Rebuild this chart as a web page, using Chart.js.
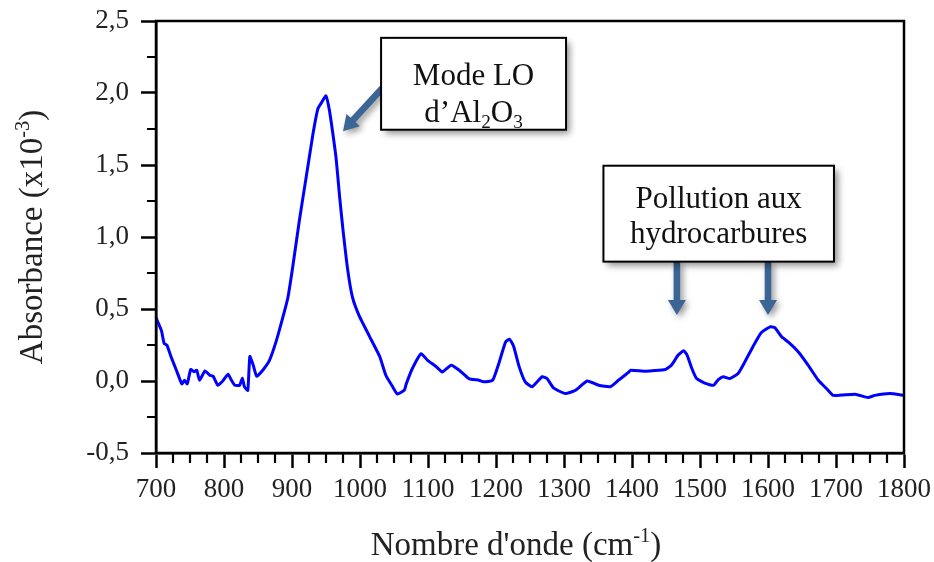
<!DOCTYPE html>
<html>
<head>
<meta charset="utf-8">
<script src="https://cdn.jsdelivr.net/npm/chart.js@4.4.1/dist/chart.umd.min.js"></script>
<style>
  html, body { margin: 0; padding: 0; background: #fff; }
  canvas { display: block; }
</style>
</head>
<body>
<canvas id="spectrum" width="934" height="562"></canvas>
<script>
// Wavenumber (cm-1) and absorbance (x10^-3)
const wavenumbers = [
  700, 708, 712, 716, 722, 730, 738, 742, 746, 751, 756, 760, 764, 772, 779, 784,
  791, 799, 806, 811, 816, 823, 827, 830, 835, 838, 843, 848, 857, 867, 877, 887,
  894, 901, 911, 921, 931, 938, 943, 950, 955, 960, 965, 970, 975, 982, 989, 999,
  1014, 1029, 1038, 1048, 1055, 1065, 1068, 1077, 1090, 1099, 1112, 1121, 1134, 1146,
  1160, 1175, 1182, 1195, 1204, 1214, 1220, 1226, 1234, 1243, 1253, 1268, 1275, 1285,
  1302, 1317, 1334, 1351, 1368, 1380, 1394, 1398, 1420, 1449, 1458, 1468, 1476, 1481,
  1488, 1495, 1508, 1520, 1527, 1534, 1544, 1556, 1566, 1578, 1590, 1603, 1610, 1620,
  1630, 1645, 1659, 1674, 1686, 1696, 1728, 1747, 1757, 1779, 1800
];
const absorbance = [
  0.44, 0.35, 0.26, 0.25, 0.17, 0.075, -0.02, 0.005, -0.02, 0.08, 0.065, 0.075, 0.005, 0.07, 0.04, 0.033,
  -0.03, 0.005, 0.047, 0.005, -0.03, -0.03, 0.02, -0.04, -0.065, 0.17, 0.11, 0.033, 0.075, 0.145, 0.28, 0.45,
  0.58, 0.79, 1.12, 1.42, 1.72, 1.89, 1.93, 1.98, 1.88, 1.72, 1.54, 1.28, 1.05, 0.77, 0.58, 0.45,
  0.31, 0.17, 0.04, -0.04, -0.09, -0.065, -0.02, 0.087, 0.19, 0.145, 0.10, 0.063, 0.11, 0.075,
  0.017, 0.005, -0.006, 0.005, 0.12, 0.27, 0.29, 0.24, 0.10, -0.006, -0.04, 0.03, 0.017, -0.05,
  -0.087, -0.064, 0.0, -0.03, -0.04, 0.005, 0.056, 0.075, 0.068, 0.08, 0.11, 0.18, 0.21, 0.18,
  0.087, 0.017, -0.017, -0.03, 0.01, 0.03, 0.017, 0.052, 0.133, 0.24, 0.335, 0.376, 0.37, 0.307,
  0.27, 0.20, 0.11, 0.005, -0.052, -0.10, -0.092, -0.115, -0.10, -0.087, -0.10
];

// Axis ranges and tick steps
const xRange = [700, 1800];
const yRange = [-0.5, 2.5];
const xMajorStep = 100, xMinorStep = 25;
const yMajorStep = 0.5, yMinorStep = 0.25;

// Annotations, anchored in data units
const labelBoxes = [
  { x0: 1031, x1: 1303, y0: 2.383, y1: 1.745, lines: [
      [{ t: 'Mode LO' }],
      [{ t: 'd\u2019Al' }, { t: '2', sub: true }, { t: 'O' }, { t: '3', sub: true }]
    ], lineOffsets: [36, 73] },
  { x0: 1358, x1: 1697, y0: 1.495, y1: 0.829, lines: [
      [{ t: 'Pollution aux' }],
      [{ t: 'hydrocarbures' }]
    ], lineOffsets: [31, 66] }
];
const arrows = [
  { from: [1033, 2.035], to: [975, 1.735] },
  { from: [1466, 0.829], to: [1466, 0.458] },
  { from: [1600, 0.829], to: [1600, 0.458] }
];

const SERIF = '"Liberation Serif", "Times New Roman", serif';

// Text with sub/superscripts, centred on cx
function drawRich(ctx, parts, cx, cy, size) {
  const small = size * 0.62;
  let total = 0;
  parts.forEach(p => {
    ctx.font = (p.sub || p.sup ? small : size) + 'px ' + SERIF;
    p.w = ctx.measureText(p.t).width;
    total += p.w;
  });
  let x = cx - total / 2;
  ctx.textAlign = 'left';
  ctx.textBaseline = 'alphabetic';
  parts.forEach(p => {
    ctx.font = (p.sub || p.sup ? small : size) + 'px ' + SERIF;
    let dy = 0;
    if (p.sub) dy = size * 0.2;
    if (p.sup) dy = -size * 0.38;
    ctx.fillText(p.t, x, cy + dy);
    x += p.w;
  });
}

function drawArrow(ctx, x0, y0, x1, y1) {
  const ang = Math.atan2(y1 - y0, x1 - x0);
  const len = Math.hypot(x1 - x0, y1 - y0);
  const shaft = 3.3, head = 9, headLen = 15;
  ctx.save();
  ctx.translate(x0, y0);
  ctx.rotate(ang);
  ctx.beginPath();
  ctx.moveTo(0, -shaft);
  ctx.lineTo(len - headLen, -shaft);
  ctx.lineTo(len - headLen, -head);
  ctx.lineTo(len, 0);
  ctx.lineTo(len - headLen, head);
  ctx.lineTo(len - headLen, shaft);
  ctx.lineTo(0, shaft);
  ctx.closePath();
  ctx.fill();
  ctx.restore();
}

const overlay = {
  id: 'overlay',
  afterDraw(chart) {
    const { ctx, chartArea: a, scales: { x, y } } = chart;
    ctx.save();

    // frame
    ctx.strokeStyle = '#000';
    ctx.lineWidth = 2.5;
    ctx.strokeRect(a.left, a.top, a.right - a.left, a.bottom - a.top);

    // minor ticks
    ctx.lineWidth = 2.2;
    ctx.beginPath();
    for (let v = xRange[0] + xMinorStep; v < xRange[1]; v += xMinorStep) {
      if (v % xMajorStep === 0) continue;
      const px = Math.round(x.getPixelForValue(v));
      ctx.moveTo(px, a.bottom);
      ctx.lineTo(px, a.bottom + 10);
    }
    for (let v = yRange[0] + yMinorStep; v < yRange[1]; v += yMinorStep) {
      if (Math.abs(v / yMajorStep - Math.round(v / yMajorStep)) < 1e-6) continue;
      const py = Math.round(y.getPixelForValue(v));
      ctx.moveTo(a.left - 9, py);
      ctx.lineTo(a.left, py);
    }
    ctx.stroke();

    // axis titles
    ctx.fillStyle = '#222';
    drawRich(ctx, [{ t: "Nombre d'onde (cm" }, { t: '-1', sup: true }, { t: ')' }], 516, 555, 33);
    ctx.save();
    ctx.translate(42, (a.top + a.bottom) / 2);
    ctx.rotate(-Math.PI / 2);
    drawRich(ctx, [{ t: 'Absorbance (x10' }, { t: '-3', sup: true }, { t: ')' }], 0, 0, 33);
    ctx.restore();

    // arrows with soft shadow
    ctx.save();
    ctx.fillStyle = '#3b6595';
    ctx.shadowColor = 'rgba(0,0,0,0.4)';
    ctx.shadowBlur = 6;
    ctx.shadowOffsetX = 3;
    ctx.shadowOffsetY = 3;
    arrows.forEach(ar => {
      drawArrow(ctx,
        x.getPixelForValue(ar.from[0]), y.getPixelForValue(ar.from[1]),
        x.getPixelForValue(ar.to[0]), y.getPixelForValue(ar.to[1]));
    });
    ctx.restore();

    // label boxes
    labelBoxes.forEach(b => {
      const bx = x.getPixelForValue(b.x0), bx1 = x.getPixelForValue(b.x1);
      const by = y.getPixelForValue(b.y0), by1 = y.getPixelForValue(b.y1);
      ctx.save();
      ctx.shadowColor = 'rgba(0,0,0,0.45)';
      ctx.shadowBlur = 7;
      ctx.shadowOffsetX = 4;
      ctx.shadowOffsetY = 4;
      ctx.fillStyle = '#fff';
      ctx.fillRect(bx, by, bx1 - bx, by1 - by);
      ctx.restore();
      ctx.strokeStyle = '#000';
      ctx.lineWidth = 2;
      ctx.strokeRect(bx, by, bx1 - bx, by1 - by);
      ctx.fillStyle = '#111';
      b.lines.forEach((ln, i) => {
        drawRich(ctx, ln, (bx + bx1) / 2, by + b.lineOffsets[i] + 11, 31);
      });
    });

    ctx.restore();
  }
};

const ctx = document.getElementById('spectrum').getContext('2d');
new Chart(ctx, {
  type: 'line',
  data: {
    datasets: [{
      data: wavenumbers.map((w, i) => ({ x: w, y: absorbance[i] })),
      borderColor: '#0000ff',
      borderWidth: 3,
      pointRadius: 0,
      tension: 0.15,
      fill: false
    }]
  },
  options: {
    responsive: false,
    animation: false,
    devicePixelRatio: 1,
    layout: { padding: { top: 21, right: 30, left: 0, bottom: 0 } },
    plugins: { legend: { display: false }, tooltip: { enabled: false } },
    scales: {
      x: {
        type: 'linear',
        min: xRange[0],
        max: xRange[1],
        afterFit: s => { s.height = 109; s.paddingLeft = 0; s.paddingRight = 0; },
        border: { display: true, color: '#000', width: 2.5 },
        grid: { drawOnChartArea: false, drawTicks: true, tickLength: 15, tickWidth: 2.5, tickColor: '#000' },
        ticks: {
          stepSize: xMajorStep,
          padding: 6,
          color: '#222',
          font: { family: SERIF, size: 27 },
          maxRotation: 0,
          callback: v => String(v)
        }
      },
      y: {
        min: yRange[0],
        max: yRange[1],
        afterFit: s => { s.width = 156; s.paddingTop = 0; s.paddingBottom = 0; },
        border: { display: true, color: '#000', width: 2.5 },
        grid: { drawOnChartArea: false, drawTicks: true, tickLength: 15, tickWidth: 2.5, tickColor: '#000' },
        ticks: {
          stepSize: yMajorStep,
          padding: 12,
          color: '#222',
          font: { family: SERIF, size: 27 },
          callback: v => v.toFixed(1).replace('.', ',')
        }
      }
    }
  },
  plugins: [overlay]
});
</script>
</body>
</html>
